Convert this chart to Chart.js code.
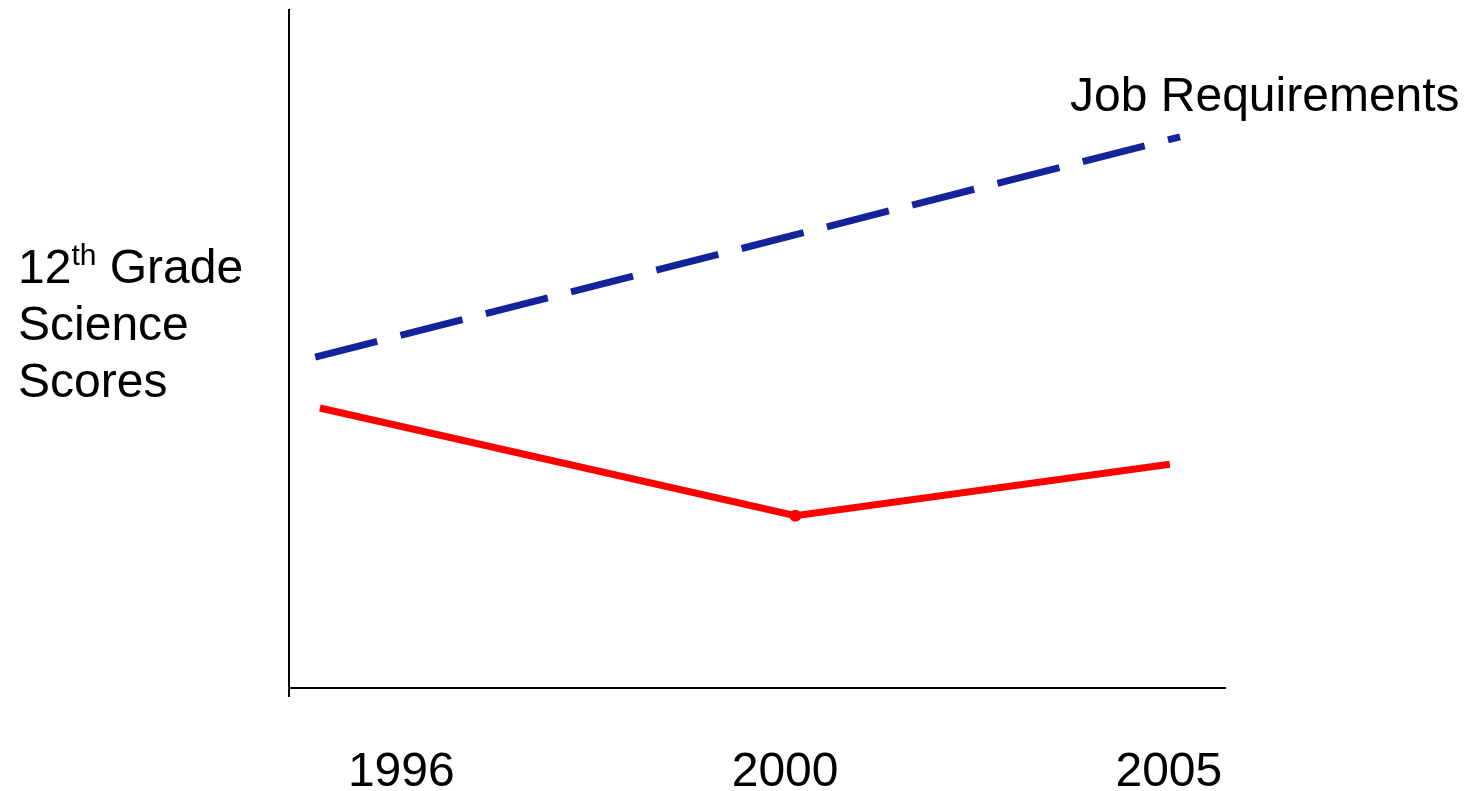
<!DOCTYPE html>
<html>
<head>
    <title>Science Scores vs Job Requirements</title>
    <script src="https://cdn.jsdelivr.net/npm/chart.js"></script>
    <style>
        html, body { margin: 0; padding: 0; background: #fff; }
        #wrap { width: 1465px; height: 791px; }
    </style>
</head>
<body>
    <div id="wrap"><canvas id="myChart"></canvas></div>
    <script>
        // Year labels and where they sit on the 0-100 x scale
        const yearLabels = ['1996', '2000', '2005'];
        const yearPositions = [12, 53, 94];

        // Job requirements trend (dashed blue)
        const jobX = [2.8, 95.2];
        const jobY = [48.8, 81.3];

        // 12th grade science scores (solid red)
        const scoreX = [3.3, 54.1, 94.1];
        const scoreY = [41.3, 25.4, 33.0];

        const FONT = '"Liberation Sans", Arial, sans-serif';

        const toPoints = (xs, ys) => xs.map((x, i) => ({ x: x, y: ys[i] }));

        // Draws the y title (with superscript), the series label and the axis stub
        const annotations = {
            id: 'annotations',
            afterDraw(chart) {
                const ctx = chart.ctx;
                const area = chart.chartArea;
                ctx.save();
                ctx.fillStyle = '#000';
                ctx.textBaseline = 'alphabetic';
                ctx.textAlign = 'left';

                // y axis title
                ctx.font = '48px ' + FONT;
                let x = 18;
                ctx.fillText('12', x, 283);
                x += ctx.measureText('12').width;
                ctx.font = '30px ' + FONT;
                ctx.fillText('th', x, 265);
                x += ctx.measureText('th').width;
                ctx.font = '48px ' + FONT;
                ctx.fillText(' Grade', x, 283);
                ctx.fillText('Science', 18, 340);
                ctx.fillText('Scores', 18, 397);

                // series label next to the end of the job line
                const xs = chart.scales.x, ys = chart.scales.y;
                const endX = xs.getPixelForValue(jobX[jobX.length - 1]);
                const endY = ys.getPixelForValue(jobY[jobY.length - 1]);
                ctx.font = '48px ' + FONT;
                ctx.fillText('Job Requirements', endX - 110, endY - 26);

                // short extension of the y axis below the x axis
                ctx.strokeStyle = '#000';
                ctx.lineWidth = 2;
                ctx.beginPath();
                ctx.moveTo(area.left, area.bottom);
                ctx.lineTo(area.left, area.bottom + 9);
                ctx.stroke();
                ctx.restore();
            }
        };

        const ctx = document.getElementById('myChart').getContext('2d');
        const chart = new Chart(ctx, {
            type: 'line',
            data: {
                datasets: [{
                    label: 'Job Requirements',
                    data: toPoints(jobX, jobY),
                    borderColor: '#14239a',
                    borderWidth: 7,
                    borderDash: [64, 24],
                    borderCapStyle: 'butt',
                    pointRadius: 0,
                    tension: 0
                }, {
                    label: '12th Grade Science Scores',
                    data: toPoints(scoreX, scoreY),
                    borderColor: '#ff0000',
                    backgroundColor: '#ff0000',
                    borderWidth: 7,
                    pointRadius: [0, 6, 0],
                    pointBorderWidth: 0,
                    tension: 0
                }]
            },
            options: {
                responsive: true,
                maintainAspectRatio: false,
                animation: false,
                layout: { padding: { left: 289, right: 240, top: 10, bottom: 0 } },
                plugins: {
                    legend: { display: false },
                    tooltip: { enabled: false }
                },
                scales: {
                    x: {
                        type: 'linear',
                        min: 0,
                        max: 100,
                        afterBuildTicks: (scale) => {
                            scale.ticks = yearPositions.map(v => ({ value: v }));
                        },
                        afterFit: (scale) => { scale.height = 103; },
                        grid: { display: false, drawTicks: false },
                        border: { display: true, color: '#000', width: 2 },
                        ticks: {
                            autoSkip: false,
                            maxRotation: 0,
                            padding: 56,
                            color: '#000',
                            font: { family: FONT, size: 48 },
                            callback: (value) => yearLabels[yearPositions.indexOf(value)]
                        }
                    },
                    y: {
                        min: 0,
                        max: 100,
                        afterFit: (scale) => { scale.width = 0; },
                        grid: { display: false, drawTicks: false },
                        border: { display: true, color: '#000', width: 2 },
                        ticks: { display: false }
                    }
                }
            },
            plugins: [annotations]
        });
    </script>
</body>
</html>
